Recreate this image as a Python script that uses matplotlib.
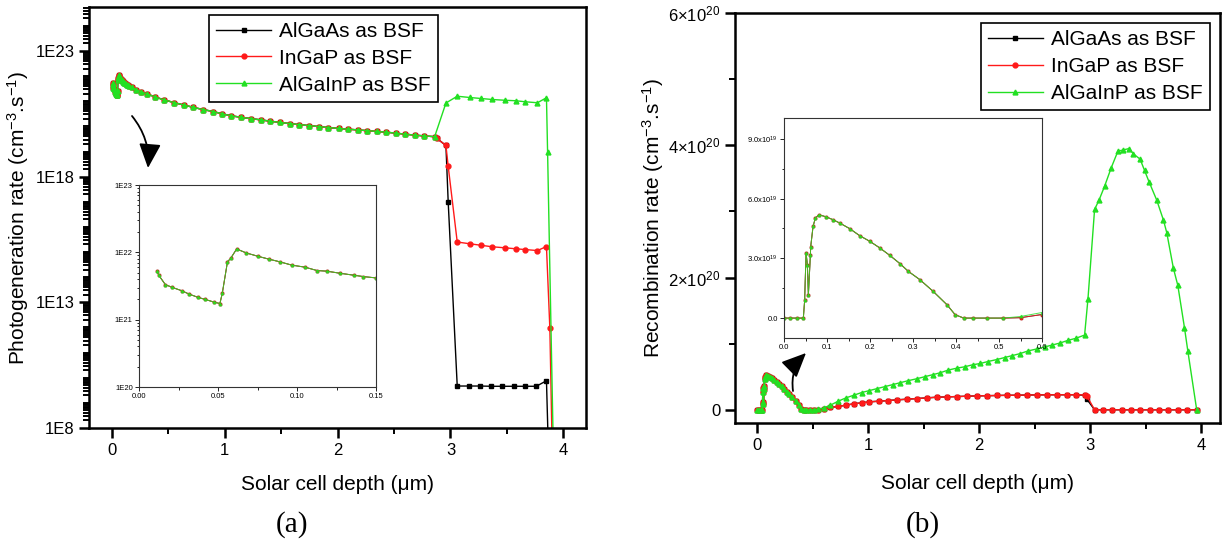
import numpy as np
import matplotlib
matplotlib.use("Agg")
import matplotlib.pyplot as plt
from matplotlib.patches import FancyArrowPatch
from matplotlib.ticker import FixedLocator, LogLocator, MultipleLocator, NullFormatter

plt.rcParams["font.family"] = ["Liberation Sans", "DejaVu Sans"]
plt.rcParams["mathtext.fontset"] = "custom"
plt.rcParams["mathtext.rm"] = "Liberation Sans"
plt.rcParams["mathtext.default"] = "regular"

# ── (a) photogeneration rate, log10 of cm^-3 s^-1 ────────────────────────────
gen_depth_shared = [0.0114, 0.0125, 0.0167, 0.021, 0.027, 0.0317, 0.0375, 0.042, 0.0476,
                    0.0512, 0.0527, 0.056, 0.058, 0.0618, 0.068, 0.0755, 0.082, 0.089,
                    0.0967, 0.105, 0.1126, 0.119, 0.127, 0.136, 0.142, 0.15, 0.18, 0.22,
                    0.26, 0.31, 0.38, 0.46, 0.55, 0.64, 0.72, 0.81, 0.90, 0.98, 1.06,
                    1.15, 1.23, 1.32, 1.40, 1.49, 1.58, 1.66, 1.75, 1.84, 1.92, 2.01,
                    2.09, 2.18, 2.26, 2.35, 2.43, 2.52, 2.60, 2.69, 2.77, 2.86]
gen_log_shared = [21.72, 21.66, 21.52, 21.48, 21.43, 21.38, 21.33, 21.30, 21.26,
                  21.24, 21.39, 21.86, 21.91, 22.05, 21.99, 21.94, 21.90, 21.86,
                  21.81, 21.78, 21.73, 21.72, 21.69, 21.66, 21.64, 21.62, 21.55, 21.46,
                  21.38, 21.30, 21.18, 21.06, 20.95, 20.85, 20.76, 20.67, 20.59, 20.50, 20.42,
                  20.36, 20.31, 20.26, 20.21, 20.16, 20.11, 20.07, 20.03, 19.99, 19.95, 19.92,
                  19.89, 19.86, 19.83, 19.80, 19.77, 19.73, 19.69, 19.65, 19.62, 19.59]

gen_depth_algaas = [2.88, 2.96, 2.98, 3.06, 3.16, 3.26, 3.36, 3.46, 3.56, 3.66, 3.76, 3.85, 3.88]
gen_log_algaas = [19.52, 19.24, 16.99, 9.67, 9.67, 9.67, 9.66, 9.66, 9.66, 9.66, 9.66, 9.88, 5.0]

gen_depth_ingap = [2.88, 2.96, 2.98, 3.06, 3.17, 3.27, 3.37, 3.48, 3.58, 3.66, 3.77, 3.85, 3.88, 3.91]
gen_log_ingap = [19.52, 19.24, 18.41, 15.40, 15.33, 15.27, 15.21, 15.17, 15.13, 15.10, 15.06, 15.22, 11.96, 5.0]

gen_depth_algainp = [2.96, 3.06, 3.17, 3.27, 3.37, 3.48, 3.58, 3.66, 3.77, 3.85, 3.86, 3.92]
gen_log_algainp = [20.93, 21.20, 21.15, 21.11, 21.07, 21.04, 21.02, 20.98, 20.94, 21.14, 18.97, 5.0]

# ── (b) recombination rate, units of 1e20 cm^-3 s^-1 ─────────────────────────
rec_depth_shared = [0.0, 0.015, 0.03, 0.045, 0.048, 0.0513, 0.0544, 0.0567, 0.0614, 0.062,
                    0.0676, 0.073, 0.0816, 0.0987, 0.114, 0.130, 0.153, 0.176, 0.200, 0.223,
                    0.246, 0.270, 0.289, 0.316, 0.347, 0.379, 0.398, 0.418, 0.44, 0.472, 0.51]
rec_shared = [0.0, 0.0, 0.0, 0.0, 0.089, 0.327, 0.268, 0.117, 0.318, 0.357,
              0.461, 0.503, 0.519, 0.508, 0.494, 0.477, 0.449, 0.414, 0.385, 0.352,
              0.315, 0.273, 0.235, 0.193, 0.134, 0.067, 0.017, 0.0, 0.0, 0.0, 0.0]

rec_depth_low = [0.55, 0.60, 0.66, 0.73, 0.80, 0.87, 0.94, 1.01, 1.10, 1.18, 1.26, 1.35,
                 1.44, 1.53, 1.62, 1.71, 1.80, 1.89, 1.98, 2.07, 2.16, 2.25, 2.34, 2.43,
                 2.52, 2.61, 2.70, 2.79, 2.87, 2.95, 2.97, 3.04, 3.12, 3.20, 3.29, 3.37,
                 3.45, 3.54, 3.62, 3.70, 3.79, 3.87, 3.96]
rec_algaas = [0.002, 0.018, 0.035, 0.05, 0.07, 0.09, 0.105, 0.12, 0.13, 0.14, 0.15, 0.16,
              0.17, 0.18, 0.19, 0.195, 0.20, 0.205, 0.21, 0.213, 0.216, 0.219, 0.22, 0.223,
              0.225, 0.226, 0.227, 0.227, 0.227, 0.22, 0.16, 0.0, 0.0, 0.0, 0.0, 0.0,
              0.0, 0.0, 0.0, 0.0, 0.0, 0.0, 0.0]
rec_ingap = [0.002, 0.018, 0.035, 0.05, 0.07, 0.09, 0.105, 0.12, 0.13, 0.14, 0.15, 0.16,
             0.17, 0.18, 0.19, 0.195, 0.20, 0.205, 0.21, 0.213, 0.216, 0.219, 0.22, 0.223,
             0.225, 0.226, 0.227, 0.227, 0.227, 0.225, 0.21, 0.0, 0.0, 0.0, 0.0, 0.0,
             0.0, 0.0, 0.0, 0.0, 0.0, 0.0, 0.0]

rec_depth_algainp = [0.55, 0.60, 0.66, 0.73, 0.80, 0.87, 0.94, 1.01, 1.08, 1.15, 1.22, 1.29,
                     1.36, 1.44, 1.51, 1.58, 1.65, 1.72, 1.80, 1.87, 1.94, 2.01, 2.08, 2.16,
                     2.23, 2.30, 2.37, 2.44, 2.52, 2.59, 2.66, 2.73, 2.80, 2.87, 2.95, 2.98,
                     3.04, 3.08, 3.13, 3.19, 3.25, 3.30, 3.35, 3.39, 3.45, 3.49, 3.53, 3.60,
                     3.66, 3.69, 3.75, 3.79, 3.85, 3.88, 3.96]
rec_algainp = [0.008, 0.028, 0.07, 0.13, 0.18, 0.22, 0.26, 0.29, 0.32, 0.35, 0.38, 0.41,
               0.44, 0.47, 0.50, 0.53, 0.56, 0.60, 0.63, 0.65, 0.68, 0.70, 0.73, 0.76,
               0.79, 0.82, 0.85, 0.89, 0.92, 0.95, 0.98, 1.01, 1.05, 1.08, 1.13, 1.67,
               3.03, 3.17, 3.38, 3.66, 3.91, 3.93, 3.95, 3.87, 3.79, 3.62, 3.45, 3.17,
               2.87, 2.68, 2.14, 1.88, 1.24, 0.89, 0.0]

labels = ["AlGaAs as BSF", "InGaP as BSF", "AlGaInP as BSF"]
colors = ["black", "#ff1a1a", "#22e022"]
markers = ["s", "o", "^"]

W, H = 1222, 545
fig = plt.figure(figsize=(W / 100, H / 100), dpi=100)


def box(x0, y0, x1, y1):
    # pixel box (top-left origin) -> figure fraction rect
    return [x0 / W, 1 - y1 / H, (x1 - x0) / W, (y1 - y0) / H]


gen_series = [
    (gen_depth_shared + gen_depth_algaas, gen_log_shared + gen_log_algaas),
    (gen_depth_shared + gen_depth_ingap, gen_log_shared + gen_log_ingap),
    (gen_depth_shared + gen_depth_algainp, gen_log_shared + gen_log_algainp),
]
rec_series = [
    (rec_depth_shared + rec_depth_low, rec_shared + rec_algaas),
    (rec_depth_shared + rec_depth_low, rec_shared + rec_ingap),
    (rec_depth_shared + rec_depth_algainp, rec_shared + rec_algainp),
]


def style_main(ax):
    for s in ax.spines.values():
        s.set_linewidth(1.8)
    ax.tick_params(which="both", direction="out", top=False, right=False, labelsize=12)
    ax.tick_params(which="major", length=7, width=1.8)
    ax.tick_params(which="minor", length=4, width=1.4)


def style_inset(ax):
    for s in ax.spines.values():
        s.set_linewidth(0.8)
        s.set_color("#333333")
    ax.tick_params(which="both", direction="out", top=False, right=False, labelsize=5.5,
                   width=0.6, pad=1.5)
    ax.tick_params(which="major", length=3)
    ax.tick_params(which="minor", length=1.8)


legend_kw = dict(loc="upper right", fontsize=15, frameon=True, fancybox=False,
                 edgecolor="black", framealpha=1, handlelength=2.6, borderpad=0.35,
                 labelspacing=0.38, handletextpad=0.4, borderaxespad=0)

# ── panel (a) ────────────────────────────────────────────────────────────────
ax1 = fig.add_axes(box(89, 7, 586, 428))
for (x, ly), lab, c, m in zip(gen_series, labels, colors, markers):
    ax1.plot(x, 10.0 ** np.array(ly), color=c, lw=1.0, marker=m, ms=3.5, label=lab)
ax1.set_yscale("log")
ax1.set_xlim(-0.2, 4.2)
ax1.set_ylim(1e8, 10 ** 24.75)
ax1.yaxis.set_major_locator(FixedLocator([1e8, 1e13, 1e18, 1e23]))
ax1.set_yticklabels(["1E8", "1E13", "1E18", "1E23"])
ax1.yaxis.set_minor_locator(LogLocator(base=10, subs=np.arange(1, 10), numticks=100))
ax1.yaxis.set_minor_formatter(NullFormatter())
ax1.xaxis.set_major_locator(MultipleLocator(1))
ax1.xaxis.set_minor_locator(MultipleLocator(0.5))
style_main(ax1)
ax1.set_xlabel("Solar cell depth (μm)", fontsize=15)
ax1.set_ylabel("Photogeneration rate (cm$^{-3}$.s$^{-1}$)", fontsize=15)
ax1.xaxis.set_label_coords(0.5, -0.112)
ax1.yaxis.set_label_coords(-0.117, 0.5)
ax1.legend(bbox_to_anchor=(0.702, 0.982), **legend_kw).get_frame().set_linewidth(1.2)

in1 = fig.add_axes(box(139, 185, 376, 387))
for (x, ly), c, m in zip(gen_series, colors, markers):
    in1.plot(x, 10.0 ** np.array(ly), color=c, lw=0.7, marker=m, ms=1.8, alpha=0.8)
in1.set_yscale("log")
in1.set_xlim(0, 0.15)
in1.set_ylim(1e20, 1e23)
in1.yaxis.set_major_locator(FixedLocator([1e20, 1e21, 1e22, 1e23]))
in1.set_yticklabels(["1E20", "1E21", "1E22", "1E23"])
in1.yaxis.set_minor_locator(LogLocator(base=10, subs=np.arange(2, 10), numticks=100))
in1.yaxis.set_minor_formatter(NullFormatter())
in1.xaxis.set_major_locator(FixedLocator([0.0, 0.05, 0.10, 0.15]))
in1.set_xticklabels(["0.00", "0.05", "0.10", "0.15"])
in1.xaxis.set_minor_locator(MultipleLocator(0.025))
style_inset(in1)

# ── panel (b) ────────────────────────────────────────────────────────────────
ax2 = fig.add_axes(box(735, 13, 1220, 423))
for (x, y), lab, c, m in zip(rec_series, labels, colors, markers):
    ax2.plot(x, np.array(y) * 1e20, color=c, lw=1.0, marker=m, ms=3.5, label=lab)
ax2.set_xlim(-0.2, 4.17)
ax2.set_ylim(-0.2e20, 6e20)
ax2.yaxis.set_major_locator(FixedLocator([0, 2e20, 4e20, 6e20]))
ax2.set_yticklabels(["0", r"$2{\times}10^{20}$", r"$4{\times}10^{20}$", r"$6{\times}10^{20}$"])
ax2.yaxis.set_minor_locator(FixedLocator([1e20, 3e20, 5e20]))
ax2.xaxis.set_major_locator(MultipleLocator(1))
ax2.xaxis.set_minor_locator(MultipleLocator(0.5))
style_main(ax2)
ax2.set_xlabel("Solar cell depth (μm)", fontsize=15)
ax2.set_ylabel("Recombination rate (cm$^{-3}$.s$^{-1}$)", fontsize=15)
ax2.xaxis.set_label_coords(0.5, -0.125)
ax2.yaxis.set_label_coords(-0.142, 0.5)
ax2.legend(bbox_to_anchor=(0.979, 0.976), **legend_kw).get_frame().set_linewidth(1.2)

in2 = fig.add_axes(box(784, 118, 1042, 338))
for (x, y), c, m in zip(rec_series, colors, markers):
    in2.plot(x, np.array(y) * 1e20, color=c, lw=0.7, marker=m, ms=1.8, alpha=0.8)
in2.set_xlim(0, 0.6)
in2.set_ylim(-1e19, 1.005e20)
in2.yaxis.set_major_locator(FixedLocator([0, 3e19, 6e19, 9e19]))
in2.set_yticklabels(["0.0", "3.0x10$^{19}$", "6.0x10$^{19}$", "9.0x10$^{19}$"])
in2.yaxis.set_minor_locator(FixedLocator([1.5e19, 4.5e19, 7.5e19]))
in2.set_xticks([0.0, 0.1, 0.2, 0.3, 0.4, 0.5, 0.6])
in2.set_xticklabels(["0.0", "0.1", "0.2", "0.3", "0.4", "0.5", "0.6"])
in2.xaxis.set_minor_locator(MultipleLocator(0.05))
style_inset(in2)

# ── arrows and panel labels ──────────────────────────────────────────────────
arrow = dict(arrowstyle="-|>,head_length=1.0,head_width=0.45", color="black", lw=1.3,
             mutation_scale=15, shrinkA=0, shrinkB=0)
fig.add_artist(FancyArrowPatch(
    (132 / W, 1 - 116 / H), (148 / W, 1 - 168 / H), transform=fig.transFigure,
    connectionstyle="arc3,rad=-0.2", **arrow))
fig.add_artist(FancyArrowPatch(
    (793 / W, 1 - 391 / H), (806 / W, 1 - 353 / H), transform=fig.transFigure,
    connectionstyle="arc3,rad=-0.25", **arrow))

fig.text(292 / W, 1 - 525 / H, "(a)", ha="center", va="center", fontsize=21,
         family="Liberation Serif")
fig.text(923 / W, 1 - 525 / H, "(b)", ha="center", va="center", fontsize=21,
         family="Liberation Serif")

fig.savefig("out.png", dpi=100)
